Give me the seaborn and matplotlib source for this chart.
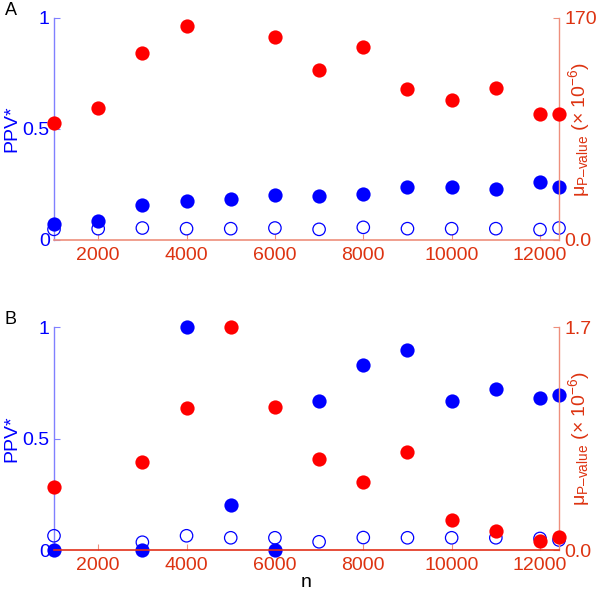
import numpy as np
import pandas as pd
import matplotlib
matplotlib.use("Agg")
import matplotlib.pyplot as plt
import seaborn as sns
from matplotlib.ticker import FixedLocator, FixedFormatter

sns.set_style("white")
plt.rcParams['font.family'] = ['Liberation Sans', 'DejaVu Sans']
plt.rcParams['mathtext.fontset'] = 'custom'
plt.rcParams['mathtext.rm'] = 'Liberation Sans'
plt.rcParams['mathtext.it'] = 'Liberation Sans:italic'
plt.rcParams['mathtext.default'] = 'regular'

nan = np.nan
n_values = [1000, 2000, 3000, 4000, 5000, 6000, 7000, 8000, 9000, 10000, 11000, 12000, 12430]

ppv_A = [0.072, 0.086, 0.156, 0.174, 0.183, 0.204, 0.200, 0.209, 0.237, 0.237, 0.230, 0.263, 0.237]
ppv0_A = [0.048, 0.051, 0.054, 0.051, 0.051, 0.054, 0.048, 0.057, 0.051, 0.051, 0.051, 0.047, 0.054]
mu_A = [89.3, 100.8, 143.4, 164.1, nan, 155.7, 130.0, 147.8, 115.4, 107.4, 116.2, 96.3, 96.3]

ppv_B = [0.0, nan, 0.0, 1.0, 0.2, 0.0, 0.667, 0.833, 0.9, 0.667, 0.722, 0.681, 0.696]
ppv0_B = [0.064, nan, 0.035, 0.064, 0.055, 0.055, 0.037, 0.056, 0.055, 0.055, 0.055, 0.052, 0.045]
mu_B = [0.479, nan, 0.674, 1.086, 1.70, 1.09, 0.692, 0.519, 0.748, 0.231, 0.147, 0.069, 0.102]

x_ticks = [2000, 4000, 6000, 8000, 10000, 12000]
left_ticks = [0, 0.5, 1]
left_ticklabels = ['0', '0.5', '1']

panels = [
    dict(letter='A', ppv=ppv_A, ppv0=ppv0_A, mu=mu_A, rmax=170, rlabels=['0.0', '170'],
         rect=[0.09, 0.5946, 0.8417, 0.375], letter_y=0.996, bottom_color='#ee8f7c'),
    dict(letter='B', ppv=ppv_B, ppv0=ppv0_B, mu=mu_B, rmax=1.7, rlabels=['0.0', '1.7'],
         rect=[0.09, 0.0709, 0.8417, 0.3762], letter_y=0.475, bottom_color='#e2301a'),
]

BLUE = '#0000ff'
BLUE_SPINE = '#8080ff'
RED = '#ff0000'
RED_TXT = '#dd3311'
SALMON = '#ee8f7c'
FS = 14

fig = plt.figure(figsize=(6.0, 5.92), dpi=100)

for i, p in enumerate(panels):
    ax = fig.add_axes(p['rect'])
    ax2 = ax.twinx()
    df = pd.DataFrame({'n': n_values, 'ppv': p['ppv'], 'ppv0': p['ppv0'], 'mu': p['mu']})

    sns.scatterplot(data=df, x='n', y='ppv0', ax=ax, s=80, facecolor='none',
                    edgecolor=BLUE, linewidth=0.9, marker='o', zorder=3)
    sns.scatterplot(data=df, x='n', y='ppv', ax=ax, s=105, color=BLUE,
                    linewidth=0, marker='o', zorder=4)
    sns.scatterplot(data=df, x='n', y='mu', ax=ax2, s=105, color=RED,
                    linewidth=0, marker='o', zorder=4)
    for c in ax.collections + ax2.collections:
        c.set_clip_on(False)

    for a in (ax, ax2):
        a.set_xlim(1000, 12430)
        a.patch.set_visible(False)
        for s in a.spines.values():
            s.set_visible(False)
    ax.set_ylim(0, 1)
    ax2.set_ylim(0, p['rmax'])

    ax.spines['left'].set_visible(True)
    ax.spines['left'].set_color(BLUE_SPINE)
    ax.spines['left'].set_linewidth(1.0)
    ax2.spines['right'].set_visible(True)
    ax2.spines['right'].set_color(SALMON)
    ax2.spines['right'].set_linewidth(1.0)
    ax2.spines['bottom'].set_visible(True)
    ax2.spines['bottom'].set_color(p['bottom_color'])
    ax2.spines['bottom'].set_linewidth(1.2)

    ax.yaxis.set_major_locator(FixedLocator(left_ticks))
    ax.yaxis.set_major_formatter(FixedFormatter(left_ticklabels))
    ax.tick_params(axis='y', direction='in', length=4, width=0.8, color=BLUE_SPINE,
                   labelcolor=BLUE, labelsize=FS, pad=3, left=True, right=False)
    ax.xaxis.set_major_locator(FixedLocator(x_ticks))
    ax.tick_params(axis='x', direction='in', length=4, width=0.8, color=SALMON,
                   labelcolor=RED_TXT, labelsize=FS, pad=5, bottom=True, top=False)

    ax2.yaxis.set_major_locator(FixedLocator([0, p['rmax']]))
    ax2.yaxis.set_major_formatter(FixedFormatter(p['rlabels']))
    ax2.tick_params(axis='y', direction='in', length=4, width=0.8, color=SALMON,
                    labelcolor=RED_TXT, labelsize=FS, pad=4, right=True, left=False)
    ax2.tick_params(axis='x', bottom=False, labelbottom=False)

    ax.set_ylabel('PPV*', color=BLUE, fontsize=FS)
    ax.yaxis.set_label_coords(-0.066, 0.5)
    ax2.set_ylabel('μ$_{\\mathrm{P–value}}$ (× 10$^{-6}$)', color=RED_TXT, fontsize=FS)
    ax2.yaxis.set_label_coords(1.014, 0.5)

    if i == 1:
        ax.set_xlabel('n', fontsize=FS, color='black', labelpad=0)
    else:
        ax.set_xlabel('')
    ax2.set_xlabel('')

    fig.text(0.008, p['letter_y'], p['letter'], fontsize=13, va='top', ha='left', color='black')

fig.savefig('out.png', dpi=100)
